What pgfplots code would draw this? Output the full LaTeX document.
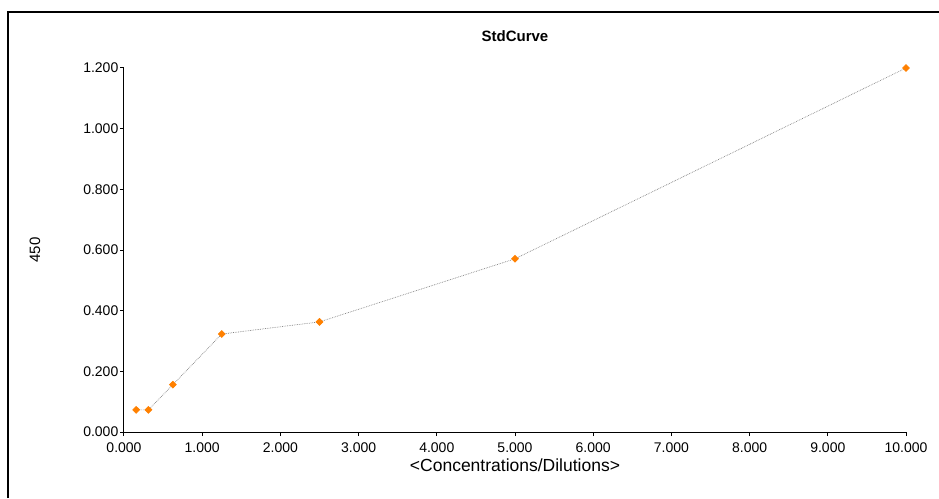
\documentclass[border=0pt]{standalone}
\usepackage{pgfplots}
\pgfplotsset{compat=1.18}
\usepackage{fontspec}
\setmainfont{Liberation Sans}
\definecolor{ptorange}{RGB}{255,128,0}
\begin{document}
\begin{tikzpicture}
\useasboundingbox (-124pt,-66pt) rectangle (815pt,432pt);
\draw[line width=2pt] (-116pt,-66pt) -- (-116pt,420pt) -- (815pt,420pt);
\begin{axis}[
  at={(0pt,0pt)}, anchor=origin,
  scale only axis, width=782pt, height=364pt,
  xmin=0, xmax=10, ymin=0, ymax=1.2,
  axis x line*=bottom, axis y line*=left,
  axis line style={black, line width=1pt, -},
  tick align=outside, major tick length=4pt,
  tick style={black, line width=1pt},
  xtick={0,1,...,10}, ytick={0,0.2,0.4,0.6,0.8,1.0,1.2},
  /pgf/number format/.cd, fixed, fixed zerofill, precision=3, 1000 sep={}, assume math mode=true, /pgfplots/.cd,
  ticklabel style={font=\fontsize{14}{16}\selectfont},
  xticklabel style={inner sep=2pt, yshift=-5pt},
  yticklabel style={inner sep=1.5pt},
  title={\textbf{StdCurve}},
  title style={at={(axis description cs:0.5,1)}, anchor=base, yshift=20pt, font=\fontsize{15}{17}\selectfont},
  xlabel={<Concentrations/Dilutions>},
  xlabel style={at={(axis description cs:0.5,0)}, anchor=base, yshift=-39pt, font=\fontsize{17.5}{20}\selectfont},
  ylabel={450},
  ylabel style={at={(axis description cs:-0.1138,0.5)}, anchor=center, font=\fontsize{15}{17}\selectfont},
  clip=false,
]
\addplot[gray, densely dotted, line width=0.7pt, mark=diamond*, mark size=3.4pt,
  mark options={solid, fill=ptorange, draw=ptorange, xscale=1.35}]
  coordinates {
  (0.156,0.073) (0.3125,0.073) (0.625,0.156) (1.25,0.323) (2.5,0.363) (5,0.571) (10,1.200)
  };
\end{axis}
\end{tikzpicture}
\end{document}
